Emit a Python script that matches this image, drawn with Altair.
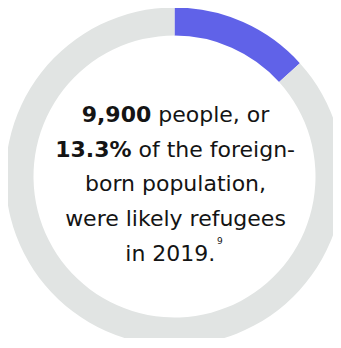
import altair as alt
import pandas as pd

# ---- data ----
categories = ["Likely refugees", "Other foreign-born"]
shares = [13.3, 86.7]
colors = ["#6062E8", "#E1E4E3"]

line1_bold = "9,900"
line1_rest = "people, or"
line2_bold = "13.3%"
line2_rest = "of the foreign-"
line3 = "born population,"
line4 = "were likely refugees"
line5 = "in 2019."
footnote = "9"

df = pd.DataFrame({"category": categories, "share": shares, "idx": list(range(len(categories)))})

W, H = 325, 330
CX, CY = 166.5, 168.5
FONT = "DejaVu Sans"
FS = 22
INK = "#141414"

donut = alt.Chart(df).mark_arc(outerRadius=169, innerRadius=141).encode(
    theta=alt.Theta("share:Q", stack=True),
    color=alt.Color("category:N", scale=alt.Scale(domain=categories, range=colors), legend=None),
    order=alt.Order("idx:Q", sort="ascending"),
    x=alt.value(CX),
    y=alt.value(CY),
)

one = pd.DataFrame({"k": [0]})


def txt(s, x, y, align="center", weight="normal", size=FS):
    return alt.Chart(one).mark_text(
        text=s, font=FONT, fontSize=size, fontWeight=weight, color=INK,
        align=align, baseline="alphabetic",
    ).encode(x=alt.value(x), y=alt.value(y))


base = 113.7
step = 34.8
split1 = 143.3
split2 = 123.5
layers = [
    donut,
    txt(line1_bold, split1, base, "right", "bold"),
    txt(line1_rest, split1 + 7, base, "left"),
    txt(line2_bold, split2, base + step, "right", "bold"),
    txt(line2_rest, split2 + 7, base + step, "left"),
    txt(line3, CX + 1, base + 2 * step),
    txt(line4, CX + 1, base + 3 * step),
    txt(line5, 207.3, base + 4 * step, "right"),
    txt(footnote, 209, base + 4 * step - 17, "left", size=9),
]

chart = alt.layer(*layers).properties(
    width=W, height=H, padding=0, autosize=alt.AutoSizeParams(type="none")
).configure_view(stroke=None)

chart.save("out.html", embed_options={"renderer": "svg", "actions": False})
